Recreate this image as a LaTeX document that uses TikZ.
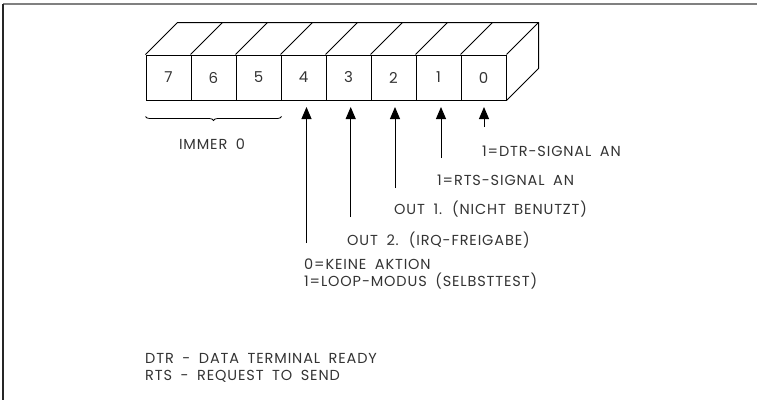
\documentclass[tikz,border=0pt]{standalone}
\usepackage{fontspec}
\setmainfont{Poppins}[WordSpace=1.8, LetterSpace=6]
\usetikzlibrary{arrows.meta,decorations.pathreplacing}

\begin{document}
\begin{tikzpicture}[
  x=1pt, y=-1pt,
  every node/.style={inner sep=0pt},
  cell/.style={draw, line width=1pt, minimum width=45pt, minimum height=45pt,
    text=black!80, font=\fontsize{15}{17}\selectfont},
  edge/.style={draw, line width=1pt},
  lbl/.style={anchor=west, font=\fontsize{14.5}{17}\selectfont, text=black!80},
  arrow/.style={draw, line width=1pt, -{Triangle[length=12pt,width=10pt]}},
  frame/.style={draw, line width=1.6pt}]

  \useasboundingbox (0,0) rectangle (757,402);

  % ---- the page frame ------------------------------------------------------
  \draw[frame, black!50] (3,4) -- (757,4);
  \draw[frame, black!85] (3,4) -- (3,400);

  % ---- the eight bits, front faces -----------------------------------------
  \foreach \b [count=\i from 0] in {7,6,5,4,3,2,1,0}
    \node[cell] (b\b) at (168.5+45*\i,77.5) {\b};

  % ---- top and side of the register ----------------------------------------
  \draw[edge] (b7.north west) -- ++(32,-32) -- ([shift={(32,-32)}]b0.north east)
    -- ([shift={(32,-32)}]b0.south east) -- (b0.south east);
  \draw[edge] (b0.north east) -- ++(32,-32);
  \foreach \b in {6,5,4,3,2,1,0}
    \draw[edge] (b\b.north west) -- ++(32,-32);

  % ---- bits 7..5 ------------------------------------------------------------
  \draw[line width=0.8pt, decorate, decoration={brace, amplitude=4pt}]
    ([yshift=-16pt]b5.south east) -- ([yshift=-16pt]b7.south west);
  \node[lbl, anchor=center] (immer) at (212,144) {IMMER 0};

  % ---- labels of bits 4..0 --------------------------------------------------
  \node[lbl] (l0) at (482,151) {1=DTR-SIGNAL AN};
  \node[lbl] (l1) at (437,180) {1=RTS-SIGNAL AN};
  \node[lbl] (l2) at (394,209) {OUT 1. (NICHT BENUTZT)};
  \node[lbl] (l3) at (347,240) {OUT 2. (IRQ-FREIGABE)};
  \node[lbl, align=left] (l4) at (304,274) {0=KEINE AKTION\\1=LOOP-MODUS (SELBSTTEST)};

  \coordinate (t0) at (484,127);
  \coordinate (t1) at (441,158);
  \coordinate (t2) at (395,188);
  \coordinate (t3) at (350.7,217);
  \coordinate (t4) at (306.5,243);
  \foreach \b in {0,1,2,3,4}
    \draw[arrow] (t\b) -- (t\b |- 0,107);

  % ---- abbreviations -------------------------------------------------------
  \node[lbl, align=left] (abbr) at (145,368) {DTR - DATA TERMINAL READY\\RTS - REQUEST TO SEND};
\end{tikzpicture}
\end{document}
